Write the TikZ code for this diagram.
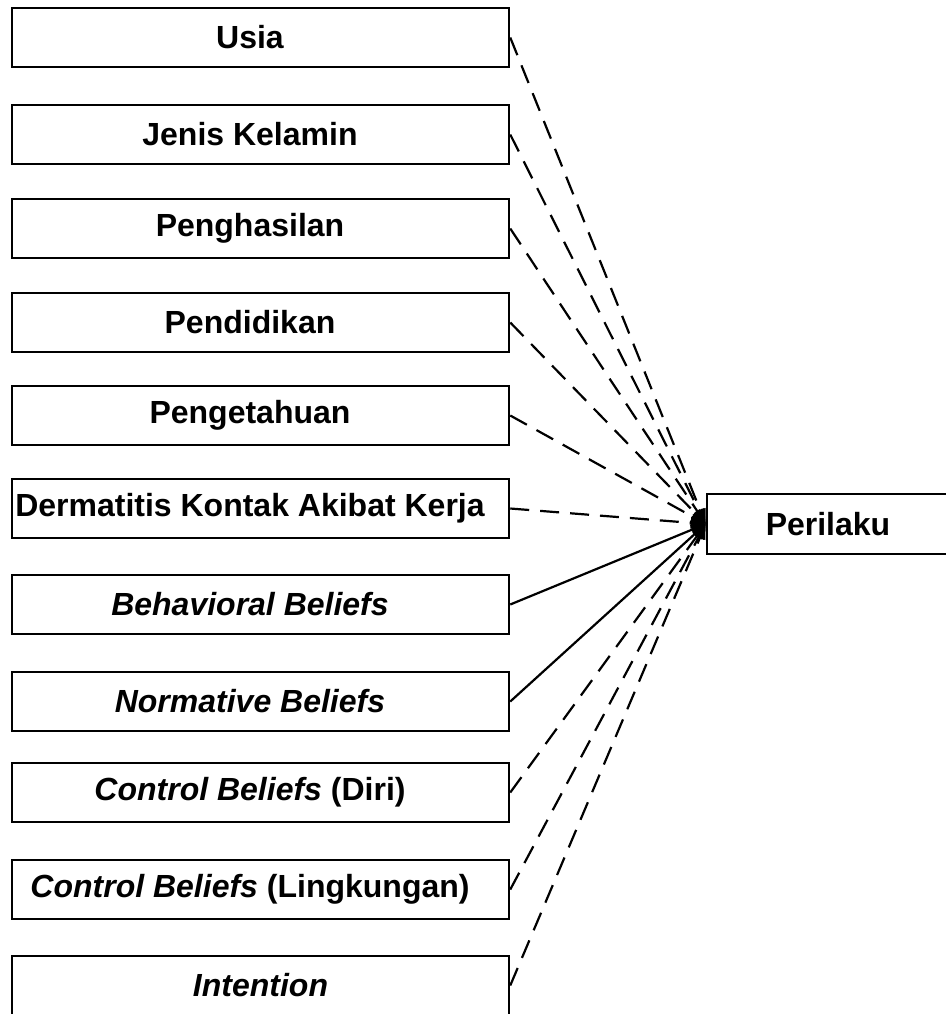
\documentclass[tikz,border=0pt]{standalone}
\usepackage{fontspec}
\setmainfont{Liberation Sans}
\usetikzlibrary{arrows.meta}
\begin{document}
\begin{tikzpicture}[x=1pt,y=-1pt,
  plainbox/.style={draw=black,line width=2.5pt,rectangle,minimum width=497pt,minimum height=59pt,inner sep=0pt,anchor=center,font=\fontsize{32}{37}\selectfont\bfseries},
  varbox/.style={plainbox,execute at end node={\hspace*{21pt}}},
  outbox/.style={draw=black,line width=2.5pt,rectangle,minimum width=242pt,minimum height=60pt,inner sep=0pt,anchor=center,font=\fontsize{32}{37}\selectfont\bfseries},
  dashlink/.style={line width=2.2pt,dash pattern=on 19pt off 11pt,-{Triangle[length=15pt,width=11pt]}},
  solidlink/.style={line width=2.2pt,-{Triangle[length=15pt,width=11pt]}}]
\useasboundingbox (0,0) rectangle (945,1014);
\node[varbox] (usia) at (260.5,37.5) {Usia};
\node[varbox] (jenis) at (260.5,134.5) {Jenis Kelamin};
\node[varbox] (hasil) at (260.5,228.5) {Penghasilan};
\node[varbox] (didik) at (260.5,322.5) {Pendidikan};
\node[varbox] (tahu) at (260.5,415.5) {Pengetahuan};
\node[varbox] (derm) at (260.5,508.5) {Dermatitis Kontak Akibat Kerja};
\node[varbox] (behav) at (260.5,604.5) {\itshape Behavioral Beliefs};
\node[varbox] (norm) at (260.5,701.5) {\itshape Normative Beliefs};
\node[varbox] (diri) at (260.5,792.5) {\textit{Control Beliefs} (Diri)};
\node[varbox] (ling) at (260.5,889.5) {\textit{Control Beliefs} (Lingkungan)};
\node[plainbox] (intent) at (260.5,985.5) {\itshape Intention};
\node[outbox] (per) at (828,524) {Perilaku};
\foreach \n in {usia,jenis,hasil,didik,tahu,derm,diri,ling,intent}
  \draw[dashlink] (\n.east) -- (per.west);
\foreach \n in {behav,norm}
  \draw[solidlink] (\n.east) -- (per.west);
\end{tikzpicture}
\end{document}
